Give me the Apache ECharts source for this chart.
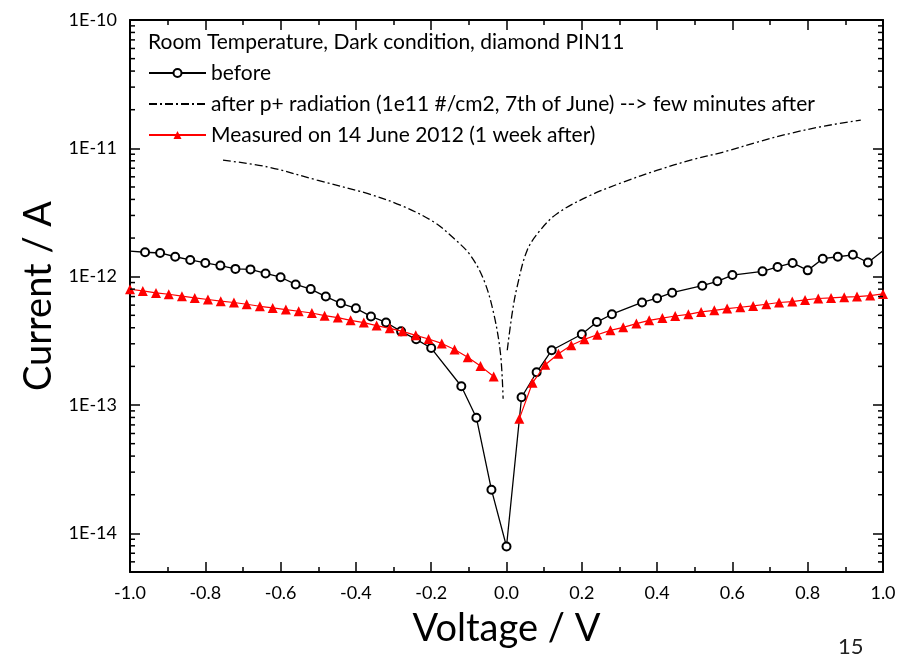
<!DOCTYPE html>
<html>
<head>
<meta charset="utf-8">
<script src="https://cdn.jsdelivr.net/npm/echarts@6.0.0/dist/echarts.min.js"></script>
<style>
  html, body { margin: 0; padding: 0; background: #fff; }
  #chart { width: 907px; height: 658px; }
</style>
</head>
<body>
<div id="chart"></div>
<script>
// voltage (V) and current (A)
const beforeV = [-1.00, -0.96, -0.92, -0.88, -0.84, -0.80, -0.76, -0.72, -0.68, -0.64,
  -0.60, -0.56, -0.52, -0.48, -0.44, -0.40, -0.36, -0.32, -0.28, -0.24, -0.20,
  -0.12, -0.08, -0.04, 0.00, 0.04, 0.08, 0.12, 0.20, 0.24, 0.28, 0.36, 0.40, 0.44,
  0.52, 0.56, 0.60, 0.68, 0.72, 0.76, 0.80, 0.84, 0.88, 0.92, 0.96, 1.00];
const beforeI = [1.58e-12, 1.55e-12, 1.53e-12, 1.43e-12, 1.35e-12, 1.28e-12, 1.22e-12, 1.15e-12, 1.14e-12, 1.06e-12,
  9.9e-13, 8.7e-13, 8.0e-13, 7.0e-13, 6.2e-13, 5.67e-13, 4.9e-13, 4.4e-13, 3.75e-13, 3.25e-13, 2.78e-13,
  1.40e-13, 7.97e-14, 2.19e-14, 7.9e-15, 1.15e-13, 1.80e-13, 2.67e-13, 3.56e-13, 4.43e-13, 5.1e-13, 6.3e-13, 6.8e-13, 7.5e-13,
  8.5e-13, 9.2e-13, 1.03e-12, 1.10e-12, 1.19e-12, 1.28e-12, 1.12e-12, 1.38e-12, 1.43e-12, 1.48e-12, 1.29e-12, 1.59e-12];

const afterLeftV = [-0.753, -0.636, -0.503, -0.370, -0.282, -0.193, -0.140, -0.096, -0.060, -0.034, -0.016, -0.009];
const afterLeftI = [8.09e-12, 7.18e-12, 5.65e-12, 4.45e-12, 3.61e-12, 2.67e-12, 1.99e-12, 1.47e-12, 9.4e-13, 5.17e-13, 2.52e-13, 1.12e-13];
const afterRightV = [0.002, 0.015, 0.028, 0.055, 0.090, 0.135, 0.223, 0.312, 0.401, 0.489, 0.578, 0.667, 0.755, 0.844, 0.941];
const afterRightI = [2.67e-13, 5.17e-13, 8.3e-13, 1.61e-12, 2.31e-12, 3.11e-12, 4.31e-12, 5.48e-12, 6.76e-12, 8.09e-12, 9.39e-12, 1.12e-11, 1.31e-11, 1.49e-11, 1.66e-11];

const weekLeftV = [-1.000, -0.966, -0.931, -0.897, -0.862, -0.828, -0.793, -0.759, -0.724, -0.690,
  -0.655, -0.621, -0.586, -0.552, -0.517, -0.483, -0.448, -0.414, -0.379, -0.345,
  -0.310, -0.276, -0.241, -0.207, -0.172, -0.138, -0.103, -0.069, -0.034];
const weekLeftI = [7.98e-13, 7.74e-13, 7.47e-13, 7.30e-13, 7.05e-13, 6.83e-13, 6.64e-13, 6.44e-13, 6.29e-13, 6.10e-13,
  5.88e-13, 5.71e-13, 5.54e-13, 5.38e-13, 5.21e-13, 4.97e-13, 4.80e-13, 4.57e-13, 4.39e-13, 4.16e-13,
  3.96e-13, 3.75e-13, 3.49e-13, 3.27e-13, 3.02e-13, 2.71e-13, 2.36e-13, 2.01e-13, 1.67e-13];
const weekRightV = [0.034, 0.069, 0.103, 0.138, 0.172, 0.207, 0.241, 0.276, 0.310, 0.345,
  0.379, 0.414, 0.448, 0.483, 0.517, 0.552, 0.586, 0.621, 0.655, 0.690,
  0.724, 0.759, 0.793, 0.828, 0.862, 0.897, 0.931, 0.966, 1.000];
const weekRightI = [7.8e-14, 1.49e-13, 2.06e-13, 2.51e-13, 2.92e-13, 3.25e-13, 3.53e-13, 3.82e-13, 4.03e-13, 4.31e-13,
  4.57e-13, 4.76e-13, 4.94e-13, 5.09e-13, 5.31e-13, 5.47e-13, 5.64e-13, 5.78e-13, 5.92e-13, 6.10e-13,
  6.29e-13, 6.40e-13, 6.59e-13, 6.76e-13, 6.83e-13, 6.92e-13, 7.00e-13, 7.13e-13, 7.34e-13];

const xMin = -1, xMax = 1, xStep = 0.2;
const yMin = 5e-15, yMax = 1e-10;

const nameBefore = "before";
const nameAfter = "after p+ radiation (1e11 #/cm2, 7th of June) --> few minutes after";
const nameWeek = "Measured on 14 June 2012 (1 week after)";

const FONT = "Lato";

function pairs(xs, ys) {
  return xs.map((x, i) => [x, ys[i]]);
}

// circles sitting on the frame are not drawn in the original
const beforeData = beforeV.map((v, i) =>
  Math.abs(v) >= 1 ? { value: [v, beforeI[i]], symbol: "none" } : [v, beforeI[i]]);
const afterData = pairs(afterLeftV, afterLeftI).concat([["-", "-"]], pairs(afterRightV, afterRightI));
const weekData = pairs(weekLeftV, weekLeftI).concat([["-", "-"]], pairs(weekRightV, weekRightI));

// log minor ticks (2..9 x 10^n) for left and right frame
const minorTickValues = [];
for (let e = -15; e <= -11; e++) {
  for (let k = 2; k <= 9; k++) {
    const v = k * Math.pow(10, e);
    if (v > yMin && v < yMax) minorTickValues.push([xMin, v]);
  }
}

const myChart = echarts.init(document.getElementById("chart"), null, { renderer: "canvas" });

const axisLine = { show: true, onZero: false, lineStyle: { color: "#000", width: 2 } };
const xCommon = {
  type: "value",
  min: xMin,
  max: xMax,
  interval: xStep,
  axisLine: axisLine,
  axisTick: { show: true, inside: true, length: 10, lineStyle: { color: "#000", width: 1.5 } },
  minorTick: { show: true, splitNumber: 2, length: 5, lineStyle: { color: "#000", width: 1.5 } },
  splitLine: { show: false },
};
const yCommon = {
  type: "log",
  logBase: 10,
  min: yMin,
  max: yMax,
  axisLine: axisLine,
  axisTick: { show: true, inside: true, length: 10, lineStyle: { color: "#000", width: 1.5 } },
  splitLine: { show: false },
};

var option = {
  animation: false,
  backgroundColor: "#fff",
  title: {
    text: "Room Temperature, Dark condition, diamond PIN11",
    left: 148,
    top: 32,
    padding: 0,
    textStyle: { fontFamily: FONT, fontSize: 21, fontWeight: "normal", color: "#000" },
  },
  legend: {
    data: [
      nameBefore,
      { name: nameAfter, itemStyle: { opacity: 0 } },
      nameWeek,
    ],
    orient: "vertical",
    left: 148,
    top: 61,
    padding: 0,
    itemWidth: 57,
    itemHeight: 10,
    itemGap: 7,
    textStyle: { fontFamily: FONT, fontSize: 21, color: "#000", lineHeight: 24 },
  },
  grid: {
    left: 130,
    right: 24,
    top: 20,
    bottom: 86,
    containLabel: false,
  },
  xAxis: [
    Object.assign({}, xCommon, {
      position: "bottom",
      name: "Voltage / V",
      nameLocation: "middle",
      nameGap: 38,
      nameTextStyle: { fontFamily: FONT, fontSize: 38, color: "#000" },
      axisLabel: {
        margin: 12,
        fontFamily: FONT,
        fontSize: 18,
        color: "#000",
        formatter: (v) => (Math.abs(v) < 1e-9 ? 0 : v).toFixed(1),
      },
    }),
    Object.assign({}, xCommon, { position: "top", axisLabel: { show: false } }),
  ],
  yAxis: [
    Object.assign({}, yCommon, {
      position: "left",
      name: "Current / A",
      nameLocation: "middle",
      nameGap: 72,
      nameTextStyle: { fontFamily: FONT, fontSize: 38, color: "#000" },
      axisLabel: {
        margin: 13,
        fontFamily: FONT,
        fontSize: 18,
        color: "#000",
        showMinLabel: false,
        formatter: (v) => "1E" + Math.round(Math.log10(v)),
      },
    }),
    Object.assign({}, yCommon, { position: "right", axisLabel: { show: false } }),
  ],
  graphic: [
    {
      type: "text",
      left: 838,
      top: 636,
      style: { text: "15", font: "22px " + FONT, fill: "#222" },
    },
  ],
  series: [
    {
      name: "minor ticks",
      type: "custom",
      silent: true,
      z: 5,
      clip: false,
      encode: { x: 0, y: 1 },
      data: minorTickValues,
      renderItem: function (params, api) {
        const y = api.value(1);
        const l = api.coord([xMin, y]);
        const r = api.coord([xMax, y]);
        const st = { stroke: "#000", lineWidth: 1.5 };
        return {
          type: "group",
          children: [
            { type: "line", shape: { x1: l[0], y1: l[1], x2: l[0] + 5, y2: l[1] }, style: st },
            { type: "line", shape: { x1: r[0] - 5, y1: r[1], x2: r[0], y2: r[1] }, style: st },
          ],
        };
      },
    },
    {
      name: nameBefore,
      type: "line",
      data: beforeData,
      symbol: "emptyCircle",
      symbolSize: 8,
      showAllSymbol: true,
      lineStyle: { color: "#000", width: 1.3 },
      itemStyle: { color: "#000", borderWidth: 1 },
      z: 3,
    },
    {
      name: nameAfter,
      type: "line",
      data: afterData,
      symbol: "none",
      smooth: 0.35,
      connectNulls: false,
      lineStyle: { color: "#000", width: 1.3, type: [8, 3, 2, 3] },
      itemStyle: { color: "#000" },
      z: 2,
    },
    {
      name: nameWeek,
      type: "line",
      data: weekData,
      symbol: "triangle",
      symbolSize: 10,
      showAllSymbol: true,
      connectNulls: false,
      lineStyle: { color: "#ff0000", width: 1.2 },
      itemStyle: { color: "#ff0000" },
      z: 4,
    },
  ],
};

myChart.setOption(option);
</script>
</body>
</html>
